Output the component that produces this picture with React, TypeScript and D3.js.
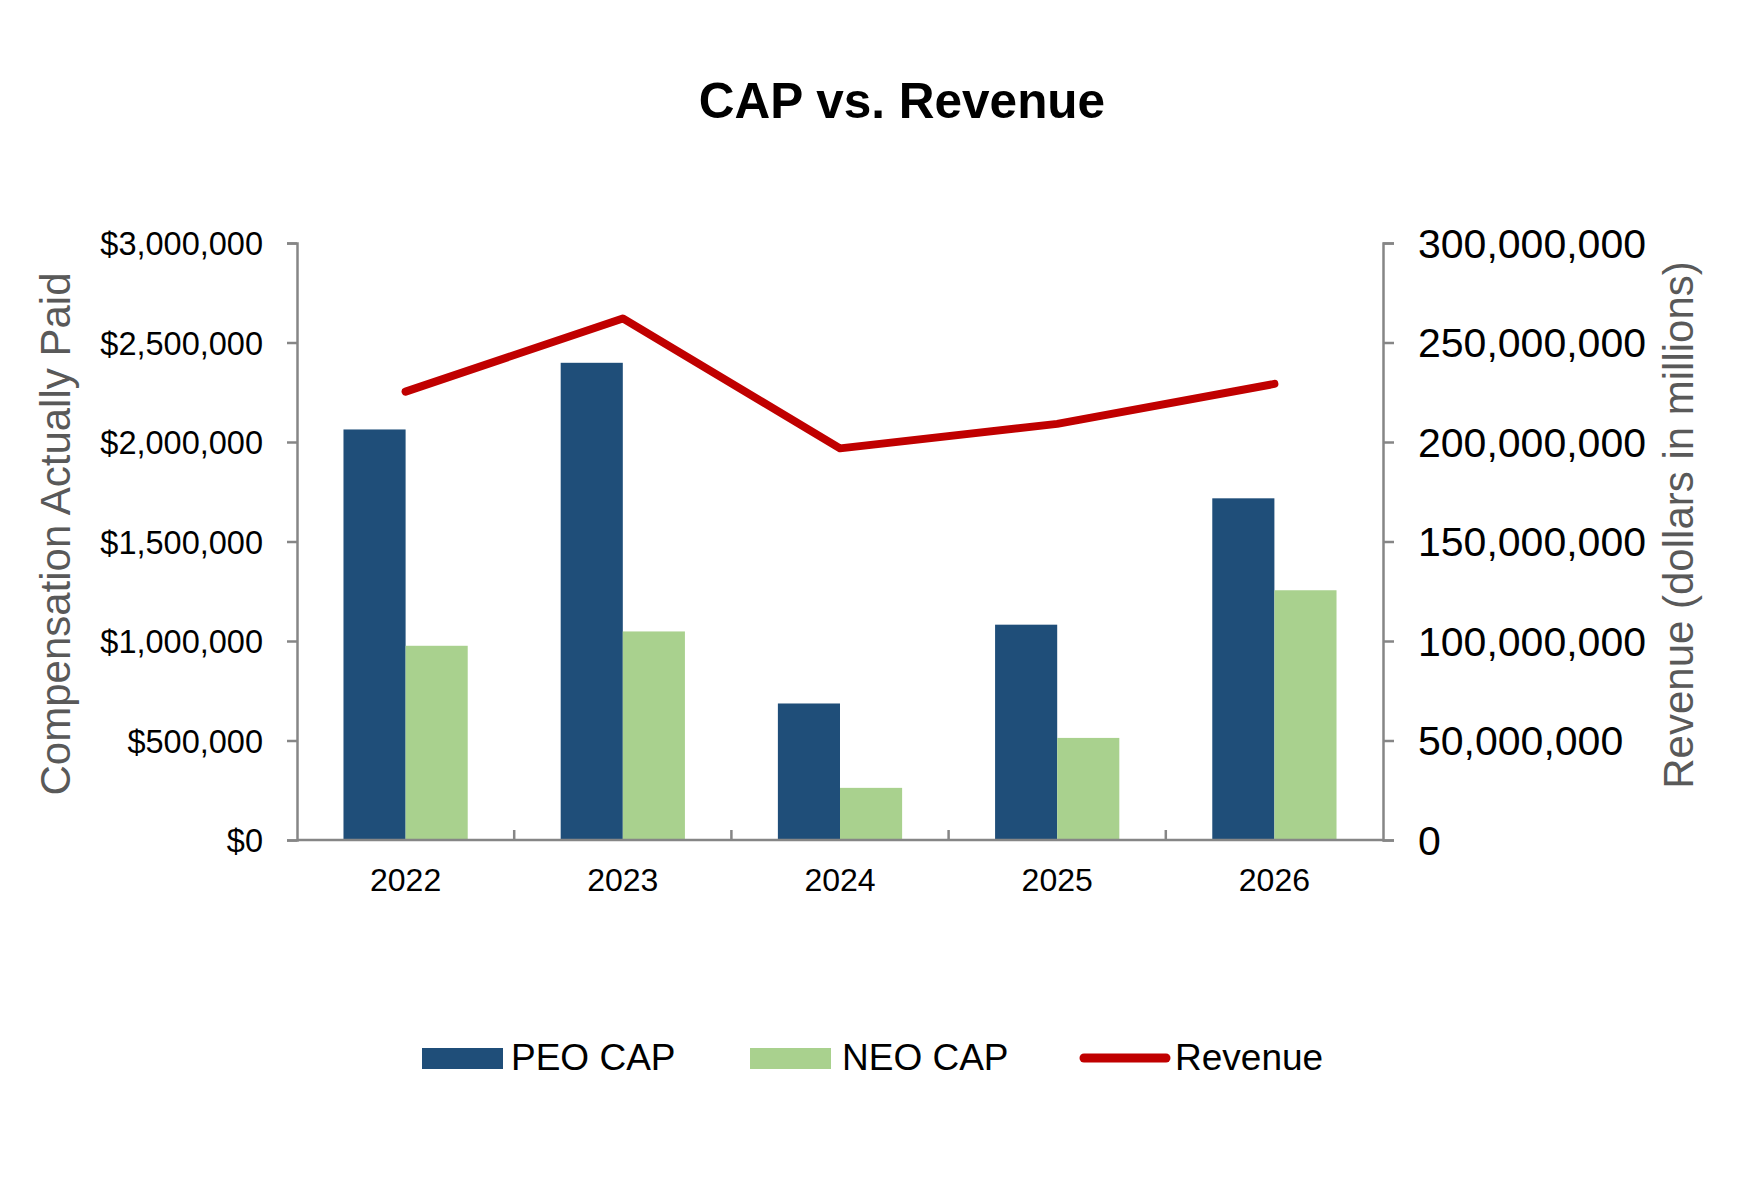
import React, { useRef, useEffect } from "react";
import * as d3 from "d3";

// chart data
const years = ["2022", "2023", "2024", "2025", "2026"];
const peoCap = [2063000, 2398000, 686000, 1082000, 1717000];
const neoCap = [976000, 1048000, 262000, 513000, 1255000];
const revenue = [225300000, 262100000, 196800000, 209100000, 229200000];

const leftTicks = [0, 500000, 1000000, 1500000, 2000000, 2500000, 3000000];
const rightTicks = [0, 50000000, 100000000, 150000000, 200000000, 250000000, 300000000];

const seriesNames = ["PEO CAP", "NEO CAP"];

const FONT = "'Liberation Sans', Arial, sans-serif";
const PEO_COLOR = "#1F4E79";
const NEO_COLOR = "#A9D18E";
const REV_COLOR = "#C00000";
const AXIS_COLOR = "#868686";
const TITLE_GRAY = "#595959";

const W = 1738;
const H = 1200;

const App: React.FC = () => {
  const ref = useRef<HTMLDivElement>(null);

  useEffect(() => {
    if (!ref.current) return;

    const svg = d3
      .select(ref.current)
      .append("svg")
      .attr("width", W)
      .attr("height", H)
      .style("position", "absolute")
      .style("left", "0px")
      .style("top", "0px")
      .style("font-family", FONT);

    svg.append("rect").attr("width", W).attr("height", H).attr("fill", "#fff");

    const left = 297;
    const right = 1383;
    const top = 243;
    const bottom = 840;

    // scales
    const x0 = d3.scaleBand().domain(years).range([left, right]).padding(0);
    const bw = x0.bandwidth();
    const groupW = bw * 0.572;
    const x1 = d3
      .scaleBand()
      .domain(seriesNames)
      .range([(bw - groupW) / 2, (bw + groupW) / 2])
      .padding(0);

    const yLeft = d3.scaleLinear().domain([0, 3000000]).range([bottom, top]);
    const yRight = d3.scaleLinear().domain([0, 300000000]).range([bottom, top]);

    // title
    svg
      .append("text")
      .attr("x", 902)
      .attr("y", 118)
      .attr("text-anchor", "middle")
      .attr("font-size", 49.5)
      .attr("font-weight", "bold")
      .attr("fill", "#000")
      .text("CAP vs. Revenue");

    // bars
    const barData = years.map((yr, i) => ({ yr, vals: [peoCap[i], neoCap[i]] }));
    const groups = svg
      .append("g")
      .selectAll("g")
      .data(barData)
      .enter()
      .append("g")
      .attr("transform", (d) => `translate(${x0(d.yr)},0)`);

    groups
      .selectAll("rect")
      .data((d) => d.vals.map((v, j) => ({ name: seriesNames[j], v })))
      .enter()
      .append("rect")
      .attr("x", (d) => x1(d.name)!)
      .attr("width", x1.bandwidth())
      .attr("y", (d) => yLeft(d.v))
      .attr("height", (d) => bottom - yLeft(d.v))
      .attr("fill", (d) => (d.name === "PEO CAP" ? PEO_COLOR : NEO_COLOR));

    // left axis
    const axisL = d3
      .axisLeft(yLeft)
      .tickValues(leftTicks)
      .tickSize(10)
      .tickPadding(24)
      .tickFormat((d) => "$" + d3.format(",")(d as number));
    const gL = svg.append("g").attr("transform", `translate(${left},0)`).call(axisL);
    gL.select(".domain").attr("stroke", AXIS_COLOR).attr("stroke-width", 2.5);
    gL.selectAll(".tick line").attr("stroke", AXIS_COLOR).attr("stroke-width", 2.5);
    gL.selectAll(".tick text")
      .attr("font-family", FONT)
      .attr("font-size", 32.5)
      .attr("fill", "#000")
      .attr("dy", "0.36em");

    // right axis
    const axisR = d3
      .axisRight(yRight)
      .tickValues(rightTicks)
      .tickSize(11)
      .tickPadding(24)
      .tickFormat((d) => d3.format(",")(d as number));
    const gR = svg.append("g").attr("transform", `translate(${right},0)`).call(axisR);
    gR.select(".domain").attr("stroke", AXIS_COLOR).attr("stroke-width", 2.5);
    gR.selectAll(".tick line").attr("stroke", AXIS_COLOR).attr("stroke-width", 2.5);
    gR.selectAll(".tick text")
      .attr("font-family", FONT)
      .attr("font-size", 41)
      .attr("fill", "#000")
      .attr("dy", "0.35em");

    // category axis: baseline, inner ticks between groups, year labels
    svg
      .append("line")
      .attr("x1", left)
      .attr("x2", right)
      .attr("y1", bottom)
      .attr("y2", bottom)
      .attr("stroke", AXIS_COLOR)
      .attr("stroke-width", 2.5);

    svg
      .append("g")
      .selectAll("line")
      .data(years.slice(1))
      .enter()
      .append("line")
      .attr("x1", (d) => x0(d)!)
      .attr("x2", (d) => x0(d)!)
      .attr("y1", bottom)
      .attr("y2", bottom - 10)
      .attr("stroke", AXIS_COLOR)
      .attr("stroke-width", 2.5);

    svg
      .append("g")
      .selectAll("text")
      .data(years)
      .enter()
      .append("text")
      .attr("x", (d) => x0(d)! + bw / 2)
      .attr("y", 891)
      .attr("text-anchor", "middle")
      .attr("font-size", 32)
      .attr("fill", "#000")
      .text((d) => d);

    // revenue line
    const line = d3
      .line<number>()
      .x((_, i) => x0(years[i])! + bw / 2)
      .y((d) => yRight(d));

    svg
      .append("path")
      .datum(revenue)
      .attr("fill", "none")
      .attr("stroke", REV_COLOR)
      .attr("stroke-width", 8)
      .attr("stroke-linecap", "round")
      .attr("stroke-linejoin", "round")
      .attr("d", line);

    // axis titles
    svg
      .append("text")
      .attr("transform", `translate(70,534) rotate(-90)`)
      .attr("text-anchor", "middle")
      .attr("font-size", 42)
      .attr("fill", TITLE_GRAY)
      .text("Compensation Actually Paid");

    svg
      .append("text")
      .attr("transform", `translate(1693,525) rotate(-90)`)
      .attr("text-anchor", "middle")
      .attr("font-size", 42)
      .attr("fill", TITLE_GRAY)
      .text("Revenue (dollars in millions)");

    // legend
    const lg = svg.append("g").attr("font-size", 37).attr("fill", "#000");
    lg.append("rect").attr("x", 422).attr("y", 1048).attr("width", 81).attr("height", 21).attr("fill", PEO_COLOR);
    lg.append("text").attr("x", 511).attr("y", 1070).text("PEO CAP");
    lg.append("rect").attr("x", 750).attr("y", 1048).attr("width", 81).attr("height", 21).attr("fill", NEO_COLOR);
    lg.append("text").attr("x", 842).attr("y", 1070).text("NEO CAP");
    lg.append("line")
      .attr("x1", 1084)
      .attr("x2", 1166)
      .attr("y1", 1058)
      .attr("y2", 1058)
      .attr("stroke", REV_COLOR)
      .attr("stroke-width", 9)
      .attr("stroke-linecap", "round");
    lg.append("text").attr("x", 1175).attr("y", 1070).text("Revenue");

    return () => {
      svg.remove();
    };
  }, []);

  return <div ref={ref}></div>;
};

export default App;
